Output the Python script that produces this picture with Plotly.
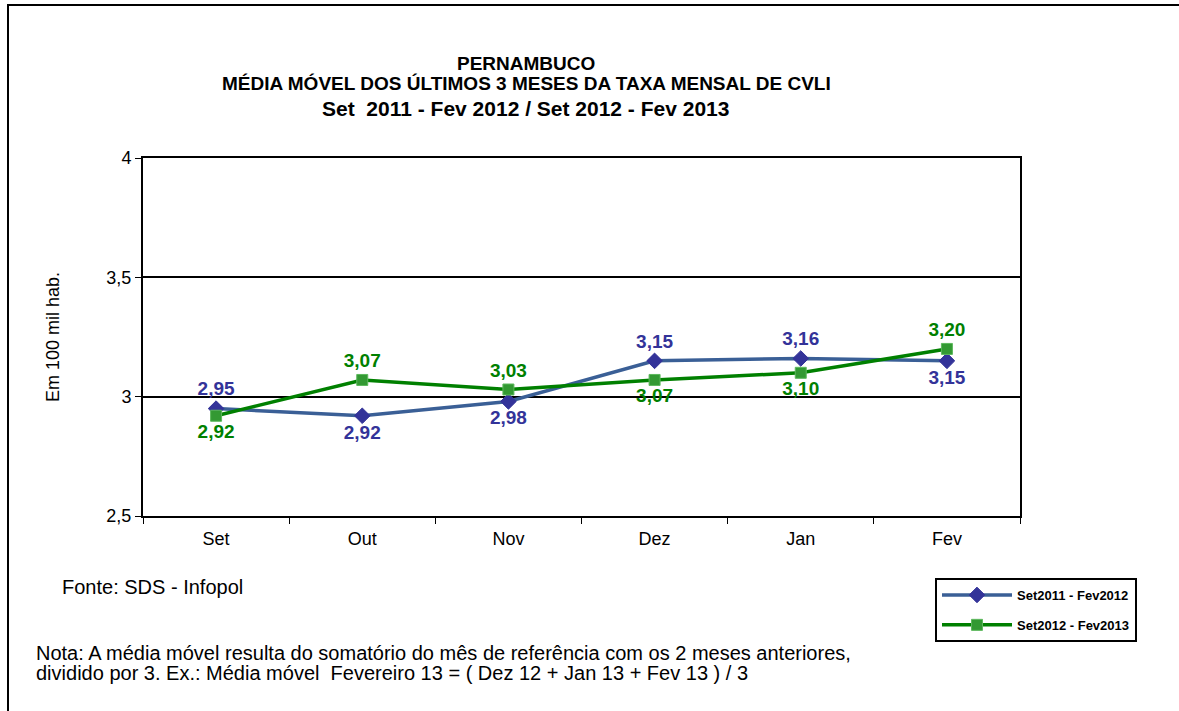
import plotly.graph_objects as go

categories = ["Set", "Out", "Nov", "Dez", "Jan", "Fev"]
serie_2011 = [2.95, 2.92, 2.98, 3.15, 3.16, 3.15]
serie_2012 = [2.92, 3.07, 3.03, 3.07, 3.10, 3.20]
pos_2011 = ["top center", "bottom center", "bottom center", "top center", "top center", "bottom center"]
pos_2012 = ["bottom center", "top center", "top center", "bottom center", "bottom center", "top center"]
name_2011 = "Set2011 - Fev2012"
name_2012 = "Set2012 - Fev2013"
y_ticks = [2.5, 3, 3.5, 4]

FONT = "Liberation Sans, Arial, sans-serif"
W, H = 1179, 711
L, R, T, B = 143, 1020, 158, 516

fig = go.Figure()
fig.add_trace(go.Scatter(
    x=categories, y=serie_2011, name=name_2011, mode="lines+markers+text", legendgroup="a",
    line=dict(color="#3A5F96", width=3.5),
    marker=dict(symbol="diamond", size=12, color="#333399", line=dict(color="#333399", width=1)),
    texttemplate="%{y:.2f}", textposition=pos_2011,
    textfont=dict(family=FONT, size=19, color="#333399", weight="bold"),
))
fig.add_trace(go.Scatter(
    x=categories, y=serie_2012, name=name_2012, mode="lines+markers+text", legendgroup="b",
    line=dict(color="#008000", width=3.5),
    marker=dict(symbol="square", size=11, color="#339933", line=dict(color="#5cb85c", width=1)),
    texttemplate="%{y:.2f}", textposition=pos_2012,
    textfont=dict(family=FONT, size=19, color="#008000", weight="bold"),
))

def px2x(px):
    return (px - L) / (R - L)

def py2y(py):
    return (B - py) / (B - T)

annotations = [
    dict(text="<b>PERNAMBUCO</b>", x=px2x(526), y=py2y(63), font=dict(size=19)),
    dict(text="<b>MÉDIA MÓVEL DOS ÚLTIMOS 3 MESES DA TAXA MENSAL DE CVLI</b>", x=px2x(526), y=py2y(84), font=dict(size=19)),
    dict(text="<b>Set  2011 - Fev 2012 / Set 2012 - Fev 2013</b>", x=px2x(525), y=py2y(108), font=dict(size=21)),
    dict(text="Fonte: SDS - Infopol", x=px2x(60), y=py2y(587), xanchor="left", font=dict(size=20)),
    dict(text="Nota: A média móvel resulta do somatório do mês de referência com os 2 meses anteriores,",
         x=px2x(34), y=py2y(653), xanchor="left", font=dict(size=20)),
    dict(text="dividido por 3. Ex.: Média móvel  Fevereiro 13 = ( Dez 12 + Jan 13 + Fev 13 ) / 3",
         x=px2x(34), y=py2y(673), xanchor="left", font=dict(size=20)),
]
for a in annotations:
    a.update(xref="paper", yref="paper", showarrow=False)
    a.setdefault("xanchor", "center")
    a["yanchor"] = "middle"
    a["font"].update(family=FONT, color="black")

fig.update_layout(
    width=W, height=H,
    margin=dict(l=L, r=W - R, t=T, b=H - B),
    paper_bgcolor="white", plot_bgcolor="white",
    separators=",.",
    font=dict(family=FONT, color="black", size=18),
    showlegend=True,
    legend=dict(
        x=px2x(935), y=py2y(578), xanchor="left", yanchor="top",
        bordercolor="black", borderwidth=2, bgcolor="white",
        font=dict(family=FONT, size=13, color="black", weight="bold"),
        itemwidth=70, tracegroupgap=10,
    ),
    annotations=annotations,
    shapes=[dict(type="rect", xref="paper", yref="paper",
                 x0=px2x(8), x1=px2x(1300), y0=py2y(5), y1=py2y(800),
                 line=dict(color="black", width=2), fillcolor="rgba(0,0,0,0)", layer="below")],
)
fig.update_xaxes(
    type="category", range=[-0.5, 5.5], showline=True, linecolor="black", linewidth=2, mirror=True,
    ticks="outside", tickson="boundaries", ticklen=6, tickcolor="black", showgrid=False,
    tickfont=dict(size=18, family=FONT), ticklabelstandoff=5,
)
fig.update_yaxes(
    range=[2.5, 4], tickvals=y_ticks, showline=True, linecolor="black", linewidth=2, mirror=True,
    ticks="outside", ticklen=6, tickcolor="black", showgrid=True, gridcolor="black", gridwidth=1.5,
    zeroline=False, tickfont=dict(size=18, family=FONT),
    title=dict(text="Em 100 mil hab.", font=dict(size=18, family=FONT), standoff=42),
)
fig.write_html("out.html", config={"displayModeBar": False},
               post_script="document.body.style.margin='0px';")
